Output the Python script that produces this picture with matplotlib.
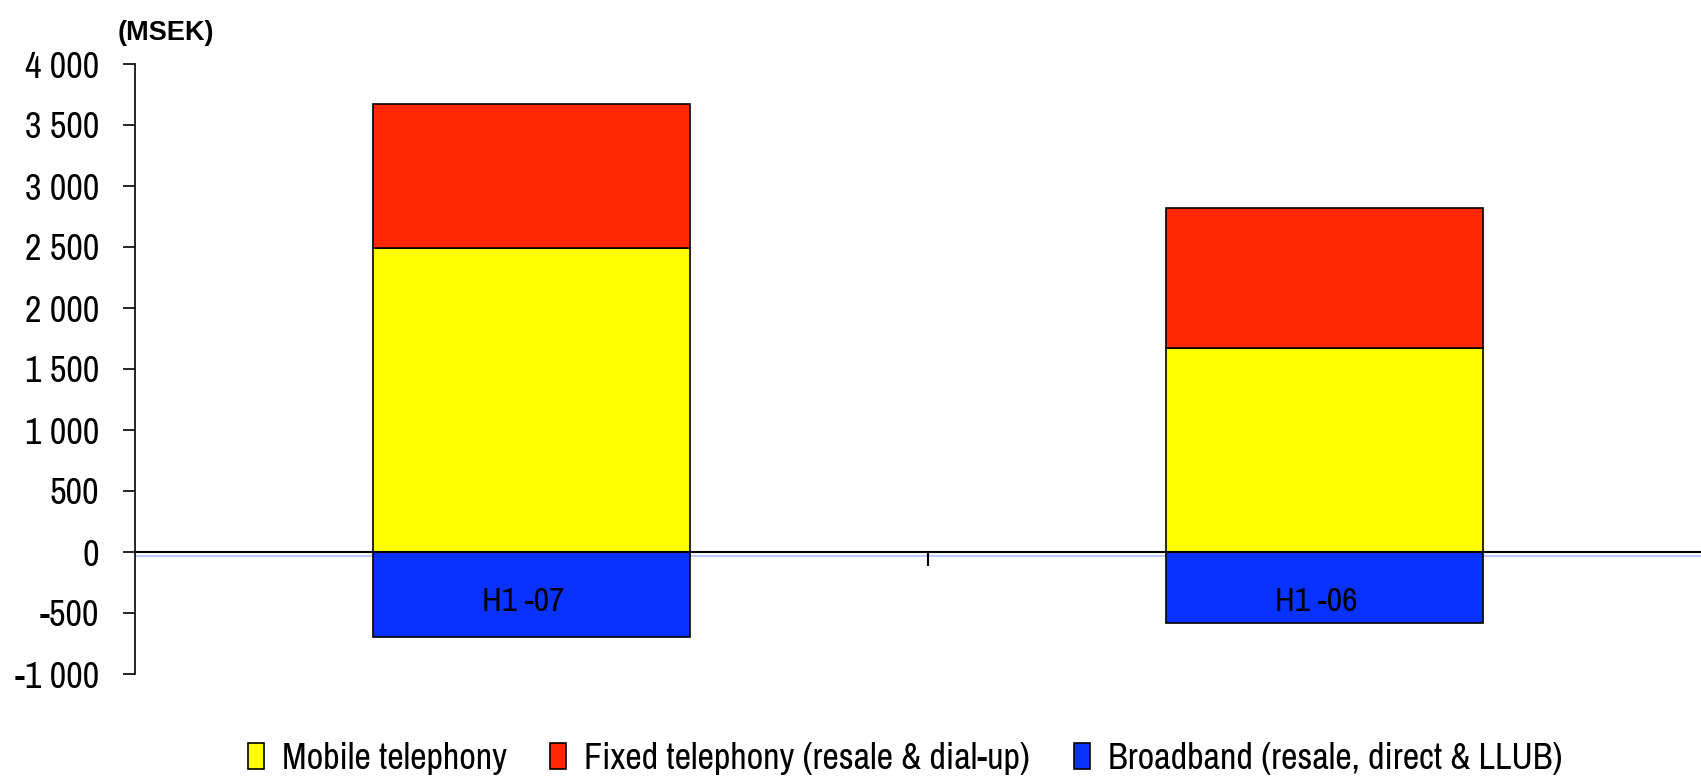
import matplotlib
matplotlib.use("Agg")
import matplotlib.pyplot as plt
from matplotlib.patches import Patch
from matplotlib import font_manager

avail = set(f.name for f in font_manager.fontManager.ttflist)
narrow = [n for n in ['Arial Narrow', 'Liberation Sans Narrow', 'Archivo Narrow', 'PT Sans Narrow',
                      'Roboto Condensed', 'Open Sans Condensed'] if n in avail]
plt.rcParams['font.family'] = narrow[:1] + ['Liberation Sans', 'DejaVu Sans']

categories = ["H1 -07", "H1 -06"]
mobile = [2490, 1675]
fixed = [1180, 1145]
broadband = [-695, -585]
series_names = ["Mobile telephony", "Fixed telephony (resale & dial-up)", "Broadband (resale, direct & LLUB)"]
colors = ["#FFFF00", "#FF2800", "#0A32FF"]
yticks = [-1000, -500, 0, 500, 1000, 1500, 2000, 2500, 3000, 3500, 4000]
ytick_labels = ["-1 000", "-500", "0", "500", "1 000", "1 500", "2 000", "2 500", "3 000", "3 500", "4 000"]

fig = plt.figure(figsize=(17.01, 7.76), dpi=100)
ax = fig.add_axes([135/1701, 102/776, 1586/1701, 610/776])

x = list(range(len(categories)))
w = 0.4
ax.bar(x, mobile, w, color=colors[0], edgecolor="black", linewidth=1.2, zorder=2)
ax.bar(x, fixed, w, bottom=mobile, color=colors[1], edgecolor="black", linewidth=1.2, zorder=2)
ax.bar(x, broadband, w, color=colors[2], edgecolor="black", linewidth=1.2, zorder=2)

ax.set_xlim(-0.5, 1.5)
ax.set_ylim(-1000, 4000)
ax.set_yticks(yticks)
ax.set_yticklabels(ytick_labels, fontsize=26)
ax.tick_params(axis='y', direction='out', length=9, width=1.2, pad=17)

for s in ['top', 'right']:
    ax.spines[s].set_visible(False)
ax.spines['bottom'].set_position(('data', 0))
ax.spines['bottom'].set_linewidth(1.5)
ax.spines['left'].set_linewidth(1.2)
ax.axhline(-30, color="#AFC0FF", linewidth=1.2, zorder=1)

ax.set_xticks([0.5])
ax.set_xticklabels([""])
ax.tick_params(axis='x', direction='out', length=10, width=1.5)
for xi, cat in zip(x, categories):
    ax.text(xi - 0.01, -410, cat, fontsize=24, ha='center', va='center', zorder=5)

fig.text(118/1701, 1 - 33/776, "(MSEK)", fontsize=19.5, fontweight='bold', va='center', ha='left',
         family=['Liberation Sans', 'DejaVu Sans'])

handles = [Patch(facecolor=c, edgecolor='black', linewidth=1.2) for c in colors]
fig.legend(handles, series_names, loc='lower center', bbox_to_anchor=(0.532, -0.04), ncol=3,
           frameon=False, fontsize=26, handlelength=0.45, handleheight=0.7, handletextpad=0.5,
           columnspacing=1.2)

fig.savefig("out.png", dpi=100)
